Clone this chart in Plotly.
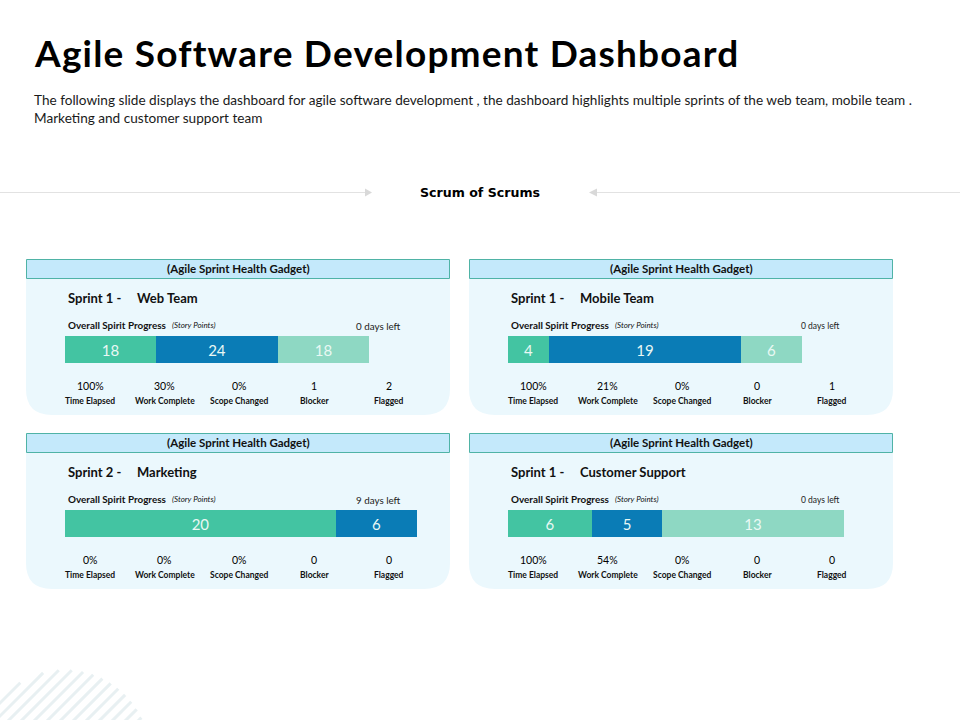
import math
import plotly.graph_objects as go

FONT = "Lato"

# panel contents, order: web, mobile, marketing, customer support
sprints = ["Sprint 1 -", "Sprint 1 -", "Sprint 2 -", "Sprint 1 -"]
teams = ["Web Team", "Mobile Team", "Marketing", "Customer Support"]
days_left = ["0 days left", "0 days left", "9 days left", "0 days left"]

bar_segments = [[18, 24, 18], [4, 19, 6], [20, 6], [6, 5, 13]]

metric_names = ["Time Elapsed", "Work Complete", "Scope Changed", "Blocker", "Flagged"]
metric_values = [
    ["100%", "30%", "0%", "1", "2"],
    ["100%", "21%", "0%", "0", "1"],
    ["0%", "0%", "0%", "0", "0"],
    ["100%", "54%", "0%", "0", "0"],
]

segment_colors = ["#43c4a2", "#0a7cb6", "#8ed8c3"]
marketing_colors = ["#43c4a2", "#0a7cb6"]

# pixel layout of the slide
panel_left = [26, 469, 26, 469]
panel_top = [259, 259, 433, 433]
bar_right = [369, 802, 417, 844]

TITLE = "Agile Software Development Dashboard"

fig = go.Figure()
shapes = []
annotations = []


def label(x, y, text, size, color="#111111", anchor="left", bold=False, italic=False, family=FONT):
    annotations.append(dict(
        x=x, y=y, xref="x", yref="y", text=text, showarrow=False,
        xanchor=anchor, yanchor="middle",
        font=dict(family=family, size=size, color=color,
                  weight="bold" if bold else "normal",
                  style="italic" if italic else "normal"),
    ))


# title block, x allows for the letter spacing added at the end of the file
label(54, 52, TITLE, 37, "#000000", bold=True)
label(32, 100, "The following slide displays the dashboard for agile software development , "
      "the dashboard highlights multiple sprints of the web team, mobile team .", 13.6, "#1a1a1a")
label(32, 118, "Marketing and customer support team", 13.6, "#1a1a1a")

# scrum of scrums divider
label(480, 192, "Scrum of Scrums", 12.6, "#000000", anchor="center", bold=True, family="DejaVu Sans")
shapes.append(dict(type="line", xref="x", yref="y", x0=0, x1=366, y0=192.5, y1=192.5,
                   line=dict(color="#e2e2e2", width=1)))
shapes.append(dict(type="line", xref="x", yref="y", x0=596, x1=960, y0=192.5, y1=192.5,
                   line=dict(color="#e2e2e2", width=1)))
shapes.append(dict(type="path", xref="x", yref="y", path="M365,188.5 L372,192.5 L365,196.5 Z",
                   fillcolor="#d9d9d9", line=dict(width=0)))
shapes.append(dict(type="path", xref="x", yref="y", path="M597,188.5 L589,192.5 L597,196.5 Z",
                   fillcolor="#d9d9d9", line=dict(width=0)))

# striped half circle, bottom left corner
cx, cy, r = 65, 755, 85
for k in range(-12, 13):
    c = k * 13
    # stripe runs up and to the right, clipped to the circle
    half = r * r - (c / math.sqrt(2)) ** 2
    if half <= 0:
        continue
    half = math.sqrt(half) / math.sqrt(2)
    mx, my = cx + c / 2, cy + c / 2
    shapes.append(dict(type="line", xref="x", yref="y", layer="below",
                       x0=mx - half, y0=my + half, x1=mx + half, y1=my - half,
                       line=dict(color="#e8f0f2", width=3)))

layout_axes = {}
for i in range(4):
    left, top = panel_left[i], panel_top[i]
    right = left + 424
    bottom = top + 156
    # rounded body, then header strip on top of it
    shapes.append(dict(type="path", xref="x", yref="y", layer="below",
                       path=f"M{left},{top + 20} L{right},{top + 20} L{right},{bottom - 26} "
                            f"Q{right},{bottom} {right - 26},{bottom} L{left + 26},{bottom} "
                            f"Q{left},{bottom} {left},{bottom - 26} Z",
                       fillcolor="#ebf8fd", line=dict(width=0)))
    shapes.append(dict(type="rect", xref="x", yref="y", layer="below",
                       x0=left + 0.5, x1=right - 0.5, y0=top + 0.5, y1=top + 19.5,
                       fillcolor="#c4e9fb", line=dict(color="#4fb3a6", width=1)))
    label(left + 212, top + 9, "(Agile Sprint Health Gadget)", 11.5, anchor="center", bold=True)
    label(left + 40, top + 38.5, sprints[i], 13, bold=True)
    label(left + 109, top + 38.5, teams[i], 13, bold=True)
    label(left + 40, top + 66, "Overall Spirit Progress", 9.9, bold=True)
    label(left + 144, top + 66, "(Story Points)", 8, italic=True)
    if left == 26:
        label(378, top + 67, days_left[i], 9.8, "#222222", anchor="center")
    else:
        label(820, top + 67, days_left[i], 8.5, "#222222", anchor="center")

    for j, name in enumerate(metric_names):
        mx = left + 64 + j * 74.7
        label(mx, top + 127, metric_values[i][j], 10.5, "#000000", anchor="center")
        label(mx, top + 142, name, 8.5, anchor="center", bold=True)

    # the bar itself, each panel has its own scale
    n = i + 2
    segs = bar_segments[i]
    colors = marketing_colors if len(segs) == 2 else segment_colors
    for v, col in zip(segs, colors):
        fig.add_trace(go.Bar(
            x=[v], y=[teams[i]], orientation="h", marker=dict(color=col, line=dict(width=0)),
            text=[str(v)], textposition="inside", insidetextanchor="middle",
            insidetextfont=dict(family=FONT, size=15, color="#e9f8f4"),
            constraintext="none", showlegend=False, hoverinfo="skip",
            xaxis=f"x{n}", yaxis=f"y{n}",
        ))
    bar_top = top + 77
    layout_axes[f"xaxis{n}"] = dict(domain=[(left + 39) / 960, bar_right[i] / 960],
                                    range=[0, sum(segs)], visible=False, anchor=f"y{n}")
    layout_axes[f"yaxis{n}"] = dict(domain=[1 - (bar_top + 27) / 720, 1 - bar_top / 720],
                                    visible=False, anchor=f"x{n}")

fig.update_layout(
    width=960, height=720, margin=dict(l=0, r=0, t=0, b=0),
    paper_bgcolor="white", plot_bgcolor="rgba(0,0,0,0)",
    barmode="stack", bargap=0,
    xaxis=dict(range=[0, 960], visible=False, domain=[0, 1]),
    yaxis=dict(range=[720, 0], visible=False, domain=[0, 1]),
    shapes=shapes, annotations=annotations,
    **layout_axes,
)

# plotly has no letter spacing option, the slide title needs it
post = """
document.body.style.margin = '0';
document.querySelectorAll('.annotation-text').forEach(function (t) {
  if (t.textContent === '%s') { t.style.letterSpacing = '1.2px'; }
});
""" % TITLE
fig.write_html("out.html", config={"displayModeBar": False}, post_script=post)
